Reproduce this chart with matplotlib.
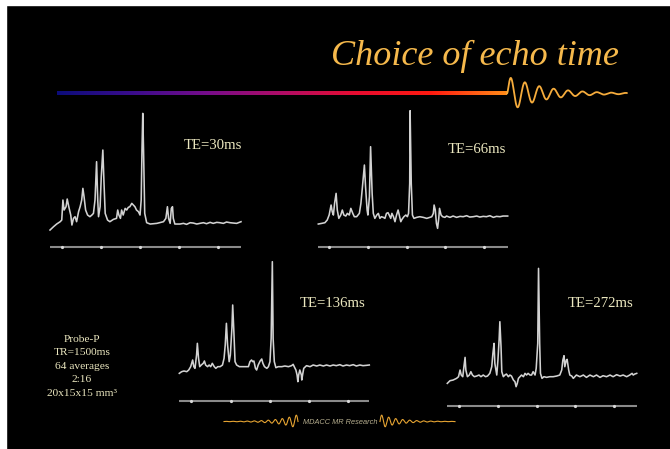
import numpy as np
import matplotlib
matplotlib.use("Agg")
import matplotlib.pyplot as plt
from matplotlib.patches import Rectangle

# ---------------- data ----------------
tick_ppm = [4, 3, 2, 1, 0]

ppm_te30 = [4.30, 4.21, 4.13, 4.04, 4.00, 3.97, 3.94, 3.89, 3.86, 3.82, 3.77, 3.74, 3.70, 3.66, 3.62,
            3.57, 3.53, 3.49, 3.46, 3.43, 3.39, 3.34, 3.28, 3.23, 3.19, 3.15, 3.11, 3.08, 3.06, 3.02,
            2.99, 2.95, 2.92, 2.89, 2.83, 2.77, 2.68, 2.60, 2.57, 2.54, 2.50, 2.47, 2.43, 2.38, 2.34,
            2.30, 2.26, 2.21, 2.17, 2.13, 2.09, 2.04, 2.00, 1.97, 1.95, 1.93, 1.91, 1.88, 1.83, 1.74,
            1.57, 1.40, 1.34, 1.30, 1.27, 1.23, 1.20, 1.17, 1.15, 1.11, 0.98, 0.89, 0.81, 0.72, 0.64,
            0.55, 0.47, 0.38, 0.30, 0.21, 0.13, 0.04, -0.04, -0.13, -0.21, -0.30, -0.38, -0.47, -0.58]
amp_te30 = [50, 60, 68, 75, 80, 140, 110, 120, 143, 120, 95, 65, 85, 90, 75,
            105, 120, 140, 175, 150, 110, 95, 90, 95, 100, 140, 255, 140, 90, 120,
            210, 290, 190, 100, 80, 75, 82, 85, 110, 95, 85, 110, 95, 115, 110,
            118, 120, 130, 125, 120, 110, 105, 95, 140, 290, 400, 290, 100, 72, 68,
            70, 75, 85, 120, 85, 70, 115, 120, 85, 68, 68, 70, 67, 72, 71,
            68, 70, 72, 69, 73, 70, 73, 72, 70, 74, 72, 71, 70, 75]

ppm_te66 = [4.28, 4.19, 4.11, 4.05, 4.00, 3.95, 3.92, 3.89, 3.86, 3.82, 3.79, 3.75, 3.70, 3.66, 3.62,
            3.57, 3.53, 3.48, 3.44, 3.39, 3.35, 3.29, 3.22, 3.18, 3.14, 3.09, 3.06, 3.02, 3.00, 2.96,
            2.93, 2.89, 2.86, 2.82, 2.77, 2.73, 2.69, 2.65, 2.60, 2.56, 2.52, 2.48, 2.45, 2.41, 2.38,
            2.34, 2.30, 2.26, 2.22, 2.19, 2.15, 2.12, 2.07, 2.02, 1.98, 1.95, 1.92, 1.91, 1.88, 1.85,
            1.81, 1.74, 1.66, 1.57, 1.48, 1.40, 1.35, 1.31, 1.29, 1.26, 1.23, 1.20, 1.17, 1.15, 1.11,
            1.07, 1.01, 0.97, 0.88, 0.80, 0.71, 0.62, 0.54, 0.45, 0.37, 0.28, 0.19, 0.11, 0.02, -0.06,
            -0.15, -0.24, -0.32, -0.41, -0.49, -0.61]
amp_te66 = [68, 70, 72, 80, 95, 125, 105, 95, 130, 160, 110, 85, 95, 110, 95,
            92, 100, 95, 115, 100, 90, 90, 100, 130, 180, 245, 180, 110, 95, 150,
            300, 160, 100, 85, 95, 100, 85, 90, 88, 85, 100, 102, 95, 85, 100,
            90, 75, 95, 110, 95, 75, 82, 90, 95, 90, 100, 190, 408, 190, 95,
            85, 88, 90, 88, 85, 88, 90, 100, 125, 110, 70, 55, 85, 115, 95,
            90, 88, 92, 88, 92, 88, 91, 90, 93, 89, 90, 92, 89, 91, 90,
            93, 88, 91, 90, 92, 92]

ppm_te136 = [4.31, 4.25, 4.19, 4.12, 4.07, 4.02, 3.97, 3.94, 3.91, 3.87, 3.85, 3.82, 3.79, 3.75, 3.70,
             3.67, 3.64, 3.59, 3.55, 3.51, 3.47, 3.42, 3.38, 3.33, 3.27, 3.21, 3.17, 3.14, 3.11, 3.08,
             3.04, 3.01, 2.97, 2.95, 2.92, 2.89, 2.85, 2.78, 2.72, 2.64, 2.55, 2.51, 2.47, 2.44, 2.41,
             2.37, 2.34, 2.30, 2.25, 2.21, 2.18, 2.14, 2.08, 2.04, 2.00, 1.97, 1.94, 1.92, 1.89, 1.85,
             1.79, 1.70, 1.62, 1.53, 1.45, 1.41, 1.37, 1.34, 1.31, 1.29, 1.27, 1.24, 1.20, 1.19, 1.17,
             1.14, 1.07, 0.98, 0.90, 0.81, 0.73, 0.64, 0.56, 0.47, 0.39, 0.31, 0.22, 0.14, 0.05, -0.03,
             -0.12, -0.20, -0.29, -0.37, -0.46, -0.53]
amp_te136 = [83, 88, 90, 88, 93, 103, 123, 103, 98, 138, 173, 128, 103, 108, 113,
             120, 108, 103, 108, 103, 113, 103, 98, 103, 103, 108, 128, 168, 233, 168,
             118, 138, 218, 288, 208, 118, 108, 103, 103, 103, 103, 118, 123, 118, 120,
             98, 93, 108, 120, 126, 113, 103, 98, 103, 118, 188, 418, 188, 118, 100,
             103, 103, 105, 103, 106, 110, 100, 93, 78, 58, 78, 93, 78, 63, 78,
             98, 106, 103, 108, 105, 108, 105, 108, 105, 108, 106, 109, 105, 108, 106,
             109, 105, 108, 106, 107, 108]

ppm_te272 = [4.31, 4.24, 4.16, 4.07, 4.02, 3.98, 3.95, 3.91, 3.88, 3.85, 3.83, 3.79, 3.74, 3.70, 3.66,
             3.61, 3.55, 3.49, 3.44, 3.38, 3.32, 3.27, 3.21, 3.16, 3.13, 3.10, 3.08, 3.03, 3.00, 2.97,
             2.95, 2.92, 2.90, 2.86, 2.82, 2.78, 2.73, 2.69, 2.65, 2.60, 2.56, 2.53, 2.50, 2.47, 2.43,
             2.39, 2.34, 2.30, 2.26, 2.22, 2.17, 2.13, 2.09, 2.04, 2.01, 1.97, 1.95, 1.92, 1.90, 1.86,
             1.81, 1.74, 1.66, 1.57, 1.48, 1.40, 1.35, 1.32, 1.29, 1.27, 1.23, 1.21, 1.17, 1.14, 1.09,
             1.05, 0.97, 0.88, 0.79, 0.71, 0.62, 0.53, 0.45, 0.36, 0.28, 0.19, 0.10, 0.02, -0.07, -0.16,
             -0.24, -0.33, -0.41, -0.47, -0.50, -0.54, -0.59]
amp_te272 = [67, 75, 77, 82, 87, 107, 92, 87, 117, 145, 107, 87, 92, 102, 92,
             87, 89, 92, 87, 92, 87, 89, 97, 117, 157, 187, 127, 92, 137, 197,
             252, 177, 102, 87, 92, 95, 87, 92, 89, 77, 72, 57, 67, 82, 87,
             92, 87, 97, 92, 97, 92, 92, 102, 92, 112, 187, 412, 187, 97, 82,
             87, 85, 87, 87, 89, 92, 107, 137, 150, 117, 137, 139, 107, 92, 89,
             82, 92, 87, 92, 85, 92, 87, 92, 85, 90, 87, 92, 87, 93, 89,
             92, 87, 92, 97, 92, 95, 97]

te_labels = ["TE=30ms", "TE=66ms", "TE=136ms", "TE=272ms"]
info_lines = ["Probe-P", "TR=1500ms", "64 averages", "2:16", "20x15x15 mm\u00b3"]
title_text = "Choice of echo time"
footer_text = "MDACC MR Research"

# ---------------- layout (pixels) ----------------
W, H = 670, 449
fig = plt.figure(figsize=(W / 100, H / 100), dpi=100, facecolor="black")

def fx(x):
    return x / W

def fy(y):
    return 1 - y / H

# white margins on left/top
fig.patches.append(Rectangle((0, 0), fx(6), 1, transform=fig.transFigure, color="white", zorder=0))
fig.patches.append(Rectangle((0, fy(5)), 1, 1, transform=fig.transFigure, color="white", zorder=0))

# overlay axes in pixel coordinates for decoration
deco = fig.add_axes([0, 0, 1, 1])
deco.set_xlim(0, W)
deco.set_ylim(H, 0)
deco.axis("off")
deco.patch.set_alpha(0)

# gradient bar
gx0, gx1, gy = 57, 507, 93.5
cmap = matplotlib.colors.LinearSegmentedColormap.from_list(
    "bar", ["#0c0c7a", "#3a0c8c", "#760c8a", "#b00c66", "#e80c30", "#ff1a10", "#ff8a18"])
grad = np.linspace(0, 1, 512)[None, :]
deco.imshow(grad, cmap=cmap, aspect="auto", extent=(gx0, gx1, gy + 1.6, gy - 1.6),
            interpolation="bilinear", zorder=2)
deco.set_xlim(0, W)
deco.set_ylim(H, 0)

# decorative damped wave after the bar
t = np.linspace(0, 120, 600)
wave = -19 * np.exp(-t / 34) * np.sin(2 * np.pi * t / 14.4) * (1 - np.exp(-t / 1.5))
deco.plot(gx1 + t, gy + wave, color="#f6ac3c", lw=1.3, solid_capstyle="round", zorder=3)

deco.text(331, 65, title_text, color="#f6b94c", fontsize=26, family="Liberation Serif",
          style="italic", ha="left", va="baseline")

# footer waves and text
tl = np.linspace(0, 74, 400)
left_wave = -7 * np.exp(-(74 - tl) / 18) * np.sin(2 * np.pi * (74 - tl) / 7.0)
deco.plot(224 + tl, 421.5 + left_wave, color="#e6a432", lw=0.8)
tr = np.linspace(0, 75, 400)
right_wave = -7 * np.exp(-tr / 18) * np.sin(2 * np.pi * tr / 7.0)
deco.plot(380 + tr, 421.5 + right_wave, color="#e6a432", lw=0.8)
deco.text(340.5, 422.5, footer_text, color="#b8b090", fontsize=5.3, family="Liberation Sans",
          style="italic", ha="center", va="center")

# info block
for i, line in enumerate(info_lines):
    deco.text(82, 341.7 + i * 13.6, line, color="#ece8c0", fontsize=8.2,
              family="Liberation Serif", ha="center", va="baseline")

# ---------------- spectra ----------------
panels = [
    (ppm_te30, amp_te30, 50.0, 241.0, 246.7, 4.30, -0.58, (184, 149)),
    (ppm_te66, amp_te66, 318.3, 507.7, 246.7, 4.28, -0.61, (447.7, 153.3)),
    (ppm_te136, amp_te136, 179.3, 369.3, 401.0, 4.31, -0.53, (300, 306.7)),
    (ppm_te272, amp_te272, 447.3, 636.7, 405.7, 4.31, -0.59, (567.7, 306.7)),
]
YMAX = 450.0  # amplitude units: 3 units per pixel
for (ppm, amp, x0, x1, yax, xs0, xs1, lab_pos), label in zip(panels, te_labels):
    ax = fig.add_axes([fx(x0), fy(yax), (x1 - x0) / W, (YMAX / 3) / H])
    ax.set_xlim(xs0, xs1)
    ax.set_ylim(0, YMAX)
    ax.axis("off")
    ax.patch.set_alpha(0)
    ax.plot(ppm, amp, color="#d2d2d2", lw=1.15, solid_joinstyle="round", clip_on=False)
    ax.plot([xs0, xs1], [0, 0], color="#8a8a8a", lw=1.5, clip_on=False, solid_capstyle="butt")
    ax.plot(tick_ppm, [0] * len(tick_ppm), "o", ms=2.3, color="#d8d8d8", mew=0, clip_on=False)
    deco.text(lab_pos[0], lab_pos[1], label, color="#ece8c0", fontsize=10.6,
              family="Liberation Serif", ha="left", va="baseline")

fig.savefig("out.png", dpi=100, facecolor="black")
